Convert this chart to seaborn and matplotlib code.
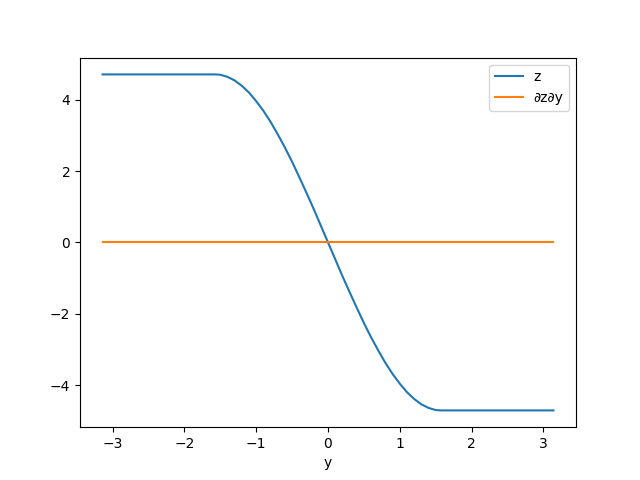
import numpy as np
import pandas as pd
import matplotlib
matplotlib.use('Agg')
import matplotlib.pyplot as plt
import seaborn as sns

# values
y_vals = [-3.14, -2.5, -2.0, -1.57, -1.5, -1.4, -1.3, -1.2, -1.1, -1.0, -0.9, -0.8, -0.7,
          -0.6, -0.5, -0.4, -0.3, -0.2, -0.1, 0.0, 0.1, 0.2, 0.3, 0.4, 0.5, 0.6, 0.7,
          0.8, 0.9, 1.0, 1.1, 1.2, 1.3, 1.4, 1.5, 1.57, 2.0, 2.5, 3.14]
z_vals = [4.71, 4.71, 4.71, 4.71, 4.70, 4.64, 4.54, 4.39, 4.20, 3.96, 3.69, 3.38, 3.03,
          2.66, 2.26, 1.83, 1.39, 0.94, 0.47, 0.0, -0.47, -0.94, -1.39, -1.83, -2.26, -2.66, -3.03,
          -3.38, -3.69, -3.96, -4.20, -4.39, -4.54, -4.64, -4.70, -4.71, -4.71, -4.71, -4.71]
dz_vals = [0.0] * len(y_vals)

df = pd.DataFrame({'y': y_vals, 'z': z_vals, 'dz': dz_vals})

fig, ax = plt.subplots(figsize=(6.4, 4.8), dpi=100)
sns.lineplot(data=df, x='y', y='z', ax=ax, label='z', color='#1f77b4')
sns.lineplot(data=df, x='y', y='dz', ax=ax, label='∂z∂y', color='#ff7f0e')
ax.set_xlabel('y')
ax.set_ylabel('')
ax.legend(loc='upper right')
plt.savefig('out.png')
